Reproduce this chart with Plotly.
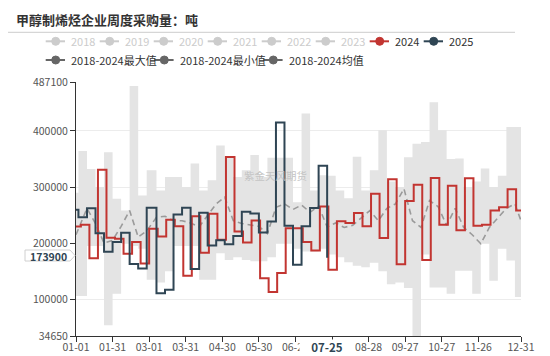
import plotly.graph_objects as go

TITLE = "甲醇制烯烃企业周度采购量：吨"
WATERMARK = "紫金天风期货"

# ---------------- data ----------------
dates_2024 = ["01-01",
    "01-05", "01-12", "01-19", "01-26", "02-02", "02-09", "02-16", "02-23",
    "03-01", "03-08", "03-15", "03-22", "03-29", "04-05", "04-12", "04-19", "04-26",
    "05-03", "05-10", "05-17", "05-24", "05-31", "06-07", "06-14", "06-21", "06-28",
    "07-05", "07-12", "07-19", "07-26", "08-02", "08-09", "08-16", "08-23", "08-30",
    "09-06", "09-13", "09-20", "09-27", "10-04", "10-11", "10-18", "10-25",
    "11-01", "11-08", "11-15", "11-22", "11-29", "12-06", "12-13", "12-20", "12-27",
    "12-31"]
vals_2024 = [229800,
    233000, 173000, 331000, 209600, 208000, 181000, 202000, 164000,
    225700, 212000, 241800, 230000, 142000, 248000, 183000, 252500, 206000,
    353600, 221000, 201000, 240500, 137500, 113000, 147000, 226800, 226800,
    202000, 187000, 265500, 152500, 239000, 236000, 253600, 230000, 288000,
    209000, 314000, 162500, 275000, 304000, 170000, 316000, 233000,
    302500, 223000, 315500, 231000, 233000, 258000, 264000, 296000, 258000,
    258000]

dates_2025 = ["01-01",
    "01-03", "01-10", "01-17", "01-24", "01-31", "02-07", "02-14", "02-21", "02-28",
    "03-07", "03-14", "03-21", "03-28", "04-04", "04-11", "04-18", "04-25",
    "05-02", "05-09", "05-16", "05-23", "05-30", "06-06", "06-13", "06-20", "06-27",
    "07-04", "07-11", "07-18", "07-25"]
vals_2025 = [259600,
    246000, 262000, 217900, 184600, 202000, 218600, 163000, 155000, 263000,
    110700, 117000, 251000, 263000, 154000, 254000, 196000, 205000,
    198000, 213000, 256000, 253000, 219000, 238700, 415000, 231000, 161400,
    230000, 262500, 338000, 173900]

band_dates = ["01-01",
    "01-03", "01-10", "01-17", "01-24", "01-31", "02-07", "02-14", "02-21", "02-28",
    "03-07", "03-14", "03-21", "03-28", "04-04", "04-11", "04-18", "04-25",
    "05-02", "05-09", "05-16", "05-23", "05-30", "06-06", "06-13", "06-20", "06-27",
    "07-04", "07-11", "07-18", "07-25", "08-01", "08-08", "08-15", "08-22", "08-29",
    "09-05", "09-12", "09-19", "09-26", "10-03", "10-10", "10-17", "10-24", "10-31",
    "11-07", "11-14", "11-21", "11-28", "12-05", "12-12", "12-19", "12-26",
    "12-31"]
band_max = [290000,
    364000, 332000, 300000, 362000, 279000, 258000, 480000, 285000, 330000,
    294000, 318000, 318000, 300000, 342000, 294000, 312000, 374000,
    354000, 318000, 330000, 357000, 318000, 352000, 352000, 352000, 273000,
    431000, 294000, 321000, 320000, 294000, 280000, 354000, 294000, 330000,
    401000, 310000, 300000, 353000, 377000, 380000, 451000, 401000, 350000,
    351000, 300000, 310000, 333000, 300000, 320000, 407000, 407000,
    407000]
band_min = [106000,
    106000, 195000, 195000, 54000, 110000, 200000, 195000, 190000, 135000,
    130000, 150000, 195000, 195000, 195000, 135000, 135000, 182000,
    170000, 175000, 170000, 168000, 168000, 175000, 200000, 200000, 190000,
    185000, 185000, 190000, 180000, 175000, 166000, 160000, 157000, 165000,
    150000, 127000, 130000, 120000, 34650, 180000, 121000, 121000, 110000,
    151000, 151000, 110000, 200000, 133000, 190000, 169000, 104000,
    104000]
band_mean = [215000,
    225000, 262000, 235000, 200000, 205000, 230000, 258000, 211000, 222000,
    246000, 248000, 240000, 240000, 236000, 229000, 250000, 270000,
    282000, 240000, 235000, 232000, 230000, 217000, 264000, 270000, 260000,
    268000, 255000, 266000, 229000, 236000, 228000, 232000, 245000, 258000,
    240000, 262000, 270000, 297000, 240000, 228000, 276000, 265000, 232000,
    262000, 228000, 215000, 199000, 228000, 245000, 262000, 270000,
    240000]

x_tick_dates = ["01-01", "01-31", "03-01", "03-31", "04-30", "05-30", "06-29",
                "07-29", "08-28", "09-27", "10-27", "11-26", "12-31"]
# the 07-29 label is hidden behind the axis-pointer label in the reference
x_tick_text = ["01-01", "01-31", "03-01", "03-31", "04-30", "05-30", "06-29",
               "", "08-28", "09-27", "10-27", "11-26", "12-31"]
y_tick_vals = [34650, 100000, 200000, 300000, 400000, 487100]

pointer_x_label = "07-25"
pointer_y_label = "173900"

legend_row1 = ["2018", "2019", "2020", "2021", "2022", "2023", "2024", "2025"]
legend_row1_colors = ["#cccccc"] * 6 + ["#c23531", "#2f4554"]
legend_row2 = ["2018-2024最大值", "2018-2024最小值", "2018-2024均值"]

# ---------------- styling ----------------
W, H = 550, 356
L, R, T, B = 76, 29, 82, 20
PW, PH = W - L - R, H - T - B
FONT = "Noto Sans CJK SC, Noto Sans, sans-serif"
RED, NAVY = "#c23531", "#2f4554"


def d(md):
    return "2024-" + md


def px(x):
    return (x - L) / PW


def py(y):
    return (H - B - y) / PH


fig = go.Figure()

fig.add_trace(go.Scatter(x=[d(s) for s in band_dates], y=band_min, mode="lines",
                         line=dict(width=0, shape="hv"), hoverinfo="skip",
                         showlegend=False))
fig.add_trace(go.Scatter(x=[d(s) for s in band_dates], y=band_max, mode="lines",
                         line=dict(width=0, shape="hv"), fill="tonexty",
                         fillcolor="#e4e4e4", hoverinfo="skip", showlegend=False))
fig.add_trace(go.Scatter(x=[d(s) for s in band_dates], y=band_mean, mode="lines",
                         line=dict(width=1.6, color="#9a9a9a", dash="6px,4px"),
                         showlegend=False))
fig.add_trace(go.Scatter(x=[d(s) for s in dates_2024], y=vals_2024, mode="lines",
                         line=dict(width=2, color=RED, shape="hv"), showlegend=False))
fig.add_trace(go.Scatter(x=[d(s) for s in dates_2025], y=vals_2025, mode="lines",
                         line=dict(width=2, color=NAVY, shape="hv"), showlegend=False))

shapes = []
annotations = []

# title + separator
annotations.append(dict(text="<b>" + TITLE + "</b>", x=px(14), y=py(19.5),
                        xref="paper", yref="paper", xanchor="left", yanchor="middle",
                        showarrow=False, font=dict(family=FONT, size=13, color="#333")))
shapes.append(dict(type="line", xref="paper", yref="paper", x0=px(8), x1=px(515),
                   y0=py(32.3), y1=py(32.3), line=dict(color="#cccccc", width=1)))


def legend_item(x0, ycen, color, label, text_color):
    shapes.append(dict(type="line", xref="paper", yref="paper", x0=px(x0), x1=px(x0 + 19.3),
                       y0=py(ycen), y1=py(ycen), line=dict(color=color, width=2)))
    shapes.append(dict(type="circle", xref="paper", yref="paper", xsizemode="pixel",
                       ysizemode="pixel", xanchor=px(x0 + 10), yanchor=py(ycen),
                       x0=-4, x1=4, y0=-4, y1=4, fillcolor=color,
                       line=dict(color=color, width=1)))
    annotations.append(dict(text=label, x=px(x0 + 23.6), y=py(ycen), xref="paper",
                            yref="paper", xanchor="left", yanchor="middle", showarrow=False,
                            font=dict(family=FONT, size=11, color=text_color)))


for i, (lab, col) in enumerate(zip(legend_row1, legend_row1_colors)):
    legend_item(45.7 + 54 * i, 41.3, col, lab, "#cccccc" if col == "#cccccc" else "#333")
for x0, lab in zip([45.7, 154.3, 263.3], legend_row2):
    legend_item(x0, 60, "#666666", lab, "#333")

# watermark
annotations.append(dict(text=WATERMARK, x=px(275.5), y=py(175.5), xref="paper", yref="paper",
                        showarrow=False, font=dict(family=FONT, size=10.5, color="#c4c4c4")))

# axis pointer labels
annotations.append(dict(text="<b>" + pointer_x_label + "</b>", x=d(pointer_x_label), y=py(346.5),
                        xref="x", yref="paper", showarrow=False, bgcolor="white",
                        width=54, height=14, borderpad=0, xanchor="center", yanchor="middle",
                        font=dict(family=FONT, size=11.5, color=NAVY)))
# y pointer box with pointed end
bx0, bx1, tip, by0, by1 = 25, 70, 75, 250, 261
path = (f"M {px(bx0)} {py(by0)} L {px(bx1)} {py(by0)} L {px(tip)} {py((by0 + by1) / 2)} "
        f"L {px(bx1)} {py(by1)} L {px(bx0)} {py(by1)} Z")
shapes.append(dict(type="path", xref="paper", yref="paper", path=path,
                   fillcolor="white", line=dict(color="#d0d0d0", width=1)))
annotations.append(dict(text="<b>" + pointer_y_label + "</b>", x=px(48.5), y=py(256),
                        xref="paper", yref="paper", showarrow=False, xanchor="center",
                        yanchor="middle", font=dict(family=FONT, size=10.5, color=NAVY)))

fig.update_layout(
    width=W, height=H, margin=dict(l=L, r=R, t=T, b=B, autoexpand=False),
    paper_bgcolor="white", plot_bgcolor="white", showlegend=False,
    shapes=shapes, annotations=annotations,
    font=dict(family=FONT),
    xaxis=dict(type="date", range=[d("01-01"), d("12-31")], automargin=False,
               tickvals=[d(s) for s in x_tick_dates], ticktext=x_tick_text,
               ticks="outside", ticklen=5, tickcolor="#333", showline=True,
               linecolor="#333", linewidth=1, showgrid=False, zeroline=False,
               ticklabelstandoff=-4,
               tickfont=dict(family=FONT, size=10.5, color="#555")),
    yaxis=dict(range=[34650, 487100], tickvals=y_tick_vals, automargin=False,
               ticktext=[str(v) for v in y_tick_vals],
               ticks="outside", ticklen=5, tickcolor="#333", showline=True,
               linecolor="#333", linewidth=1, showgrid=True, gridcolor="#ececec",
               zeroline=False, tickfont=dict(family=FONT, size=10.5, color="#555")),
)

fig.write_html("out.html", config={"displayModeBar": False},
               post_script="document.body.style.margin='0';")
